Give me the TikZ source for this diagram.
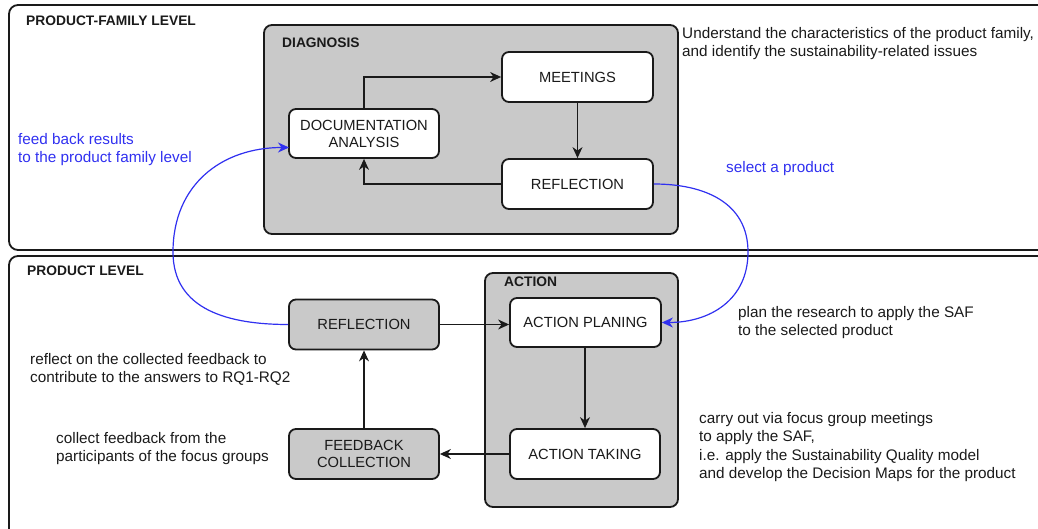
\documentclass[tikz,border=0pt]{standalone}
\usepackage{fontspec}
\setmainfont{Liberation Sans}
\usetikzlibrary{arrows.meta}
\definecolor{ink}{HTML}{1A1A1A}
\definecolor{panel}{HTML}{C9C9C9}
\definecolor{fb}{HTML}{3030F0}
\tikzset{
  frame/.style={draw=ink, line width=1.8pt, rounded corners=9pt},
  group/.style={draw=ink, line width=1.8pt, rounded corners=8pt, fill=panel},
  stepbox/.style={draw=ink, line width=1.8pt, rounded corners=7pt, fill=white,
    minimum width=150pt, minimum height=49pt, align=center, inner sep=2pt,
    font=\fontsize{14.7}{17}\selectfont, text=ink},
  graybox/.style={stepbox, fill=panel},
  ttl/.style={anchor=north west, inner sep=0pt, font=\fontsize{13.8}{16}\selectfont\bfseries, text=ink},
  note/.style={anchor=north west, inner sep=0pt, align=left, font=\fontsize{15.3}{18.5}\selectfont, text=ink},
  bnote/.style={note, text=fb},
  arr/.style={draw=ink, line width=1.1pt, -{Stealth[length=11pt,width=10pt,inset=3.5pt]}},
  barr/.style={draw=fb, line width=1.2pt, -{Stealth[length=11pt,width=10pt,inset=3.5pt]}}
}
\begin{document}
\begin{tikzpicture}[x=1pt,y=-1pt]
\useasboundingbox (0,0) rectangle (1038,529);
% outer frames
\draw[frame] (9,5) rectangle (1060,250);
\draw[frame] (9,256) rectangle (1060,560);
% groups
\draw[group] (264,25) rectangle (678,234);
\draw[group] (485,273) rectangle (678,507);
% titles
\node[ttl] (t1) at (26,16) {PRODUCT-FAMILY LEVEL};
\node[ttl] (t2) at (282,38) {DIAGNOSIS};
\node[ttl] (t3) at (27,266) {PRODUCT LEVEL};
\node[ttl] (t4) at (504,277) {ACTION};
% step boxes
\node[stepbox] (doc) at (364,133.5) {DOCUMENTATION\\ANALYSIS};
\node[stepbox, minimum width=151pt, minimum height=50pt] (meet) at (577.5,77) {MEETINGS};
\node[stepbox, minimum width=151pt, minimum height=50pt] (refa) at (577.5,184) {REFLECTION};
\node[graybox, minimum height=50pt] (refb) at (364,324.5) {REFLECTION};
\node[graybox, minimum height=50pt] (fbc) at (364,454) {FEEDBACK\\COLLECTION};
\node[stepbox, minimum width=151pt] (plan) at (585.5,322.5) {ACTION PLANING};
\node[stepbox, minimum height=50pt] (take) at (585,454) {ACTION TAKING};
% black connectors
\draw[arr] (doc.north) |- (meet.west);
\draw[arr] (meet.south) -- (refa.north);
\draw[arr] (refa.west) -| (doc.south);
\draw[arr] (refb.east) -- (plan.west |- refb.east);
\draw[arr] (plan.south -| take.north) -- (take.north);
\draw[arr] (take.west) -- (fbc.east);
\draw[arr] (fbc.north) -- (refb.south);
% blue connectors
\coordinate (m1) at (748,252);
\coordinate (m2) at (173,252);
\coordinate (din) at (289,147.5);
\draw[barr] (refa.east) to[out=0,in=90,looseness=1.1] (m1) to[out=-90,in=0,looseness=1.1] (plan.east);
\draw[barr] (refb.west) to[out=180,in=-90,looseness=1.1] (m2) to[out=90,in=180,looseness=1.1] (din);
% notes
\node[note] (n1) at (682,27) {Understand the characteristics of the product family,\\and identify the sustainability-related issues};
\node[bnote] (n2) at (18,133) {feed back results\\to the product family level};
\node[bnote] (n3) at (726,161) {select a product};
\node[note] (n4) at (738,306) {plan the research to apply the SAF\\to the selected product};
\node[note] (n5) at (30,353) {reflect on the collected feedback to\\contribute to the answers to RQ1-RQ2};
\node[note] (n6) at (56,432) {collect feedback from the\\participants of the focus groups};
\node[note] (n7) at (699,412) {carry out via focus group meetings\\to apply the SAF,\\i.e. apply the Sustainability Quality model\\and develop the Decision Maps for the product};
\end{tikzpicture}
\end{document}
